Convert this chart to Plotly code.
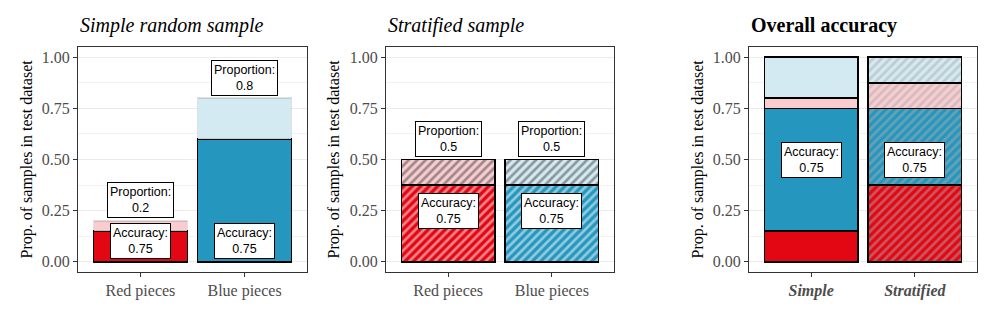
import plotly.graph_objects as go

# data
pieces = ["Red pieces", "Blue pieces"]
simple_correct = [0.15, 0.60]
simple_wrong = [0.05, 0.20]
simple_prop = [0.2, 0.8]
strat_correct = [0.375, 0.375]
strat_wrong = [0.125, 0.125]
strat_prop = [0.5, 0.5]
accuracy = [0.75, 0.75]

designs = ["Simple", "Stratified"]
red_correct = [0.15, 0.375]
blue_correct = [0.60, 0.375]
red_wrong = [0.05, 0.125]
blue_wrong = [0.20, 0.125]
overall_acc = [0.75, 0.75]

RED = "#E30613"
BLUE = "#2596BE"
PINK = "#F9CDD0"
LBLUE = "#D3EAF2"
SERIF = "Liberation Serif"
SANS = "Liberation Sans"

W, H = 997, 336
doms = [(78, 307), (386, 614), (749, 977)]
ytop, ybot = 47, 272

fig = go.Figure()


def seg(x, y, color, xa, ya, hatch, line="black"):
    fig.add_trace(go.Bar(
        x=x, y=y, xaxis=xa, yaxis=ya, width=0.9,
        marker=dict(color=color, line=dict(color=line, width=1.5),
                    pattern=dict(shape=hatch, fgcolor="#ababab", size=6, solidity=0.45)),
        showlegend=False, hoverinfo="skip"))


# simple random sample
seg(pieces, simple_correct, [RED, BLUE], "x", "y", "")
seg(pieces, simple_wrong, [PINK, LBLUE], "x", "y", "", line="rgba(0,0,0,0.12)")
# stratified sample
seg(pieces, strat_correct, [RED, BLUE], "x2", "y2", "/")
seg(pieces, strat_wrong, [PINK, LBLUE], "x2", "y2", "/")
# overall
hatch = ["", "/"]
seg(designs, red_correct, RED, "x3", "y3", hatch)
seg(designs, blue_correct, BLUE, "x3", "y3", hatch)
seg(designs, red_wrong, PINK, "x3", "y3", hatch)
seg(designs, blue_wrong, LBLUE, "x3", "y3", hatch)

ann = []


def box(text, x, y, xa, ya):
    ann.append(dict(text=text, x=x, y=y, xref=xa, yref=ya, showarrow=False,
                    font=dict(family=SANS, size=12.5, color="black"),
                    bgcolor="white", bordercolor="black", borderwidth=1, borderpad=2))


for i, c in enumerate(pieces):
    box("Proportion:<br>%s" % simple_prop[i], c, simple_prop[i] + 0.1, "x", "y")
    box("Accuracy:<br>%s" % accuracy[i], c, 0.1, "x", "y")
    box("Proportion:<br>%s" % strat_prop[i], c, strat_prop[i] + 0.1, "x2", "y2")
    box("Accuracy:<br>%s" % accuracy[i], c, 0.25, "x2", "y2")
for i, c in enumerate(designs):
    box("Accuracy:<br>%s" % overall_acc[i], c, 0.5, "x3", "y3")

titles = ["<i>Simple random sample</i>", "<i>Stratified sample</i>", "<b>Overall accuracy</b>"]
ytitle_x = [26, 333, 697]
for k in range(3):
    ann.append(dict(text=titles[k], x=doms[k][0] / W, y=1 - 26 / H, xref="paper", yref="paper",
                    xanchor="left", yanchor="middle", showarrow=False,
                    font=dict(family=SERIF, size=20, color="black")))
    ann.append(dict(text="Prop. of samples in test dataset", x=ytitle_x[k] / W,
                    y=1 - (ytop + ybot) / 2 / H, xref="paper", yref="paper",
                    xanchor="center", yanchor="middle",
                    textangle=-90, showarrow=False,
                    font=dict(family=SERIF, size=16, color="black")))

layout = dict(width=W, height=H, barmode="stack", plot_bgcolor="white", paper_bgcolor="white",
              margin=dict(l=0, r=0, t=0, b=0), annotations=ann, showlegend=False)
for k in range(3):
    sfx = "" if k == 0 else str(k + 1)
    layout["xaxis" + sfx] = dict(
        domain=[doms[k][0] / W, doms[k][1] / W], anchor="y" + sfx, range=[-0.6, 1.6],
        automargin=False,
        showline=True, mirror=True, linecolor="#333333", linewidth=1,
        ticks="outside", ticklen=4, tickcolor="#333333", showgrid=False,
        tickfont=dict(family=SERIF, size=16, color="#4d4d4d"))
    layout["yaxis" + sfx] = dict(
        domain=[1 - ybot / H, 1 - ytop / H], anchor="x" + sfx, range=[-0.05, 1.05],
        automargin=False,
        tick0=0, dtick=0.25, tickformat=".2f", zeroline=False,
        showline=True, mirror=True, linecolor="#333333", linewidth=1,
        ticks="outside", ticklen=4, tickcolor="#333333",
        showgrid=True, gridcolor="#ebebeb", gridwidth=1,
        minor=dict(dtick=0.125, tick0=0, showgrid=True, gridcolor="#f2f2f2", gridwidth=1),
        tickfont=dict(family=SERIF, size=16, color="#4d4d4d"))
layout["xaxis3"]["tickvals"] = designs
layout["xaxis3"]["ticktext"] = ["<b><i>%s</i></b>" % d for d in designs]

fig.update_layout(**layout)
# drop the default page margin so the figure sits at the window's top-left corner
fig.write_html("out.html", config={"displayModeBar": False},
               post_script="document.body.style.margin='0';")
